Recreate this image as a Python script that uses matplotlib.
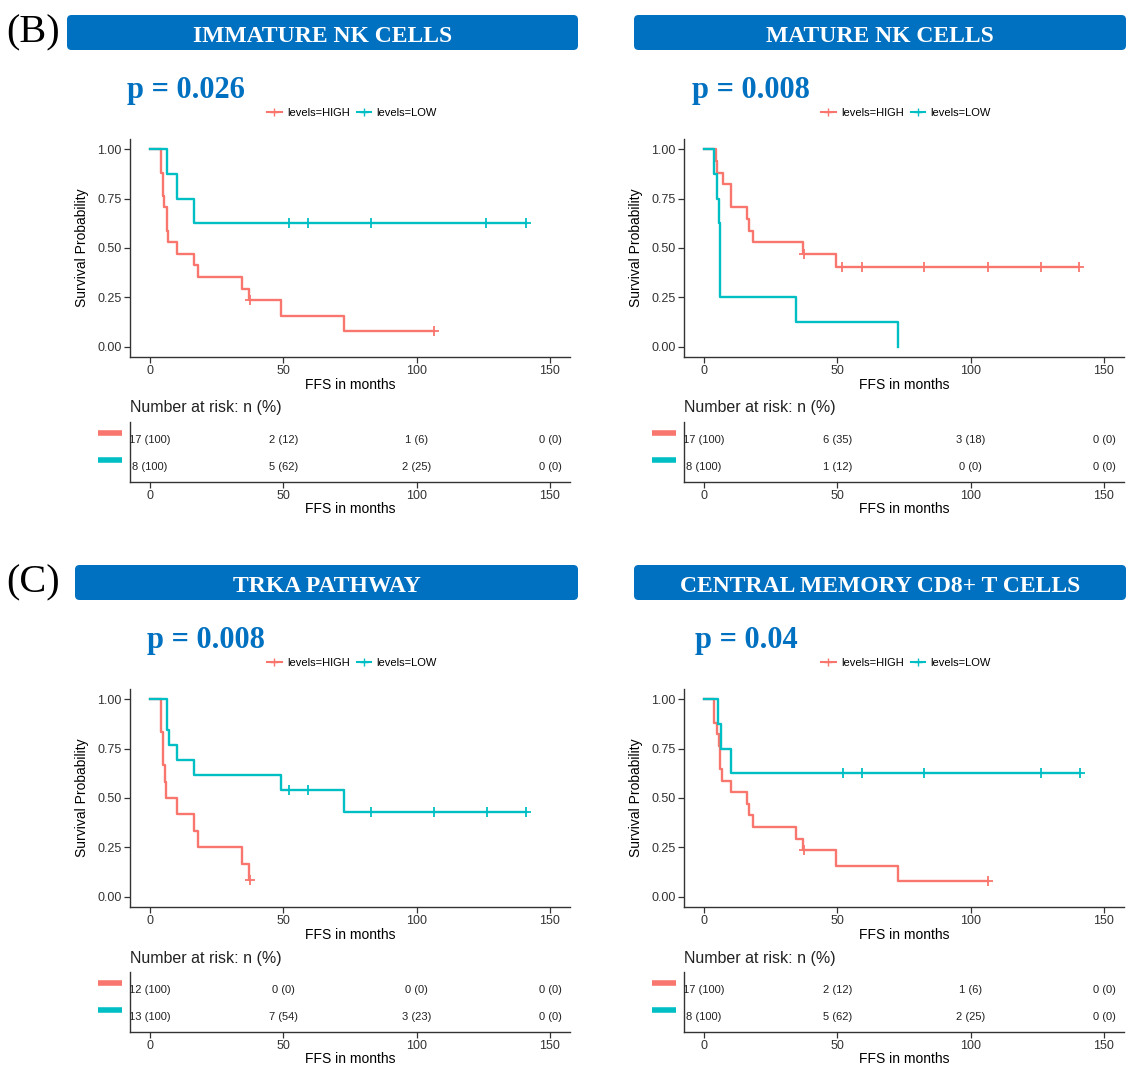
import numpy as np
import matplotlib
matplotlib.use("Agg")
import matplotlib.pyplot as plt
from matplotlib.lines import Line2D
from matplotlib.patches import FancyBboxPatch

W, H = 1140, 1065
RED = "#F8766D"
TEAL = "#00BFC4"
BLUE = "#0070C0"

plt.rcParams["font.family"] = ["Liberation Sans", "DejaVu Sans"]

# ---- data ----
titles = ["IMMATURE NK CELLS", "MATURE NK CELLS", "TRKA PATHWAY", "CENTRAL MEMORY CD8+ T CELLS"]
pvals = ["p = 0.026", "p = 0.008", "p = 0.008", "p = 0.04"]
tags = ["(B)", None, "(C)", None]

# KM step curves (time in months, survival after the step)
hi_t1 = [0, 4, 4.75, 5.4, 6.25, 6.9, 10, 16.6, 18.1, 34.5, 37.2, 49.1, 72.9, 106.6]
hi_s1 = [1, 0.882, 0.765, 0.706, 0.588, 0.529, 0.471, 0.412, 0.353, 0.294, 0.235, 0.157, 0.078, 0.078]
hi_c1 = [37.5, 106.6]
lo_t1 = [0, 6.25, 10, 16.5, 141]
lo_s1 = [1, 0.875, 0.75, 0.625, 0.625]
lo_c1 = [52, 59.25, 82.9, 126, 141]

hi_t2 = [0, 4.4, 4.9, 7.25, 10, 16.25, 16.75, 18.25, 37.25, 49.4, 140.75]
hi_s2 = [1, 0.941, 0.882, 0.824, 0.706, 0.647, 0.588, 0.529, 0.471, 0.403, 0.403]
hi_c2 = [37.5, 51.9, 59.25, 82.6, 106.6, 126.25, 140.75]
lo_t2 = [0, 3.9, 5, 5.75, 6, 34.4, 72.6]
lo_s2 = [1, 0.875, 0.75, 0.625, 0.25, 0.125, 0]
lo_c2 = []

hi_t3 = [0, 4, 4.75, 5.6, 6, 10, 16.6, 18.1, 34.4, 37.3, 37.5]
hi_s3 = [1, 0.833, 0.667, 0.583, 0.5, 0.417, 0.333, 0.25, 0.167, 0.083, 0.083]
hi_c3 = [37.5]
lo_t3 = [0, 6.25, 7.1, 10, 16.5, 49.1, 72.9, 141]
lo_s3 = [1, 0.846, 0.769, 0.692, 0.615, 0.538, 0.431, 0.431]
lo_c3 = [52, 59.25, 82.9, 106.6, 126.25, 141]

hi_t4 = [0, 3.9, 5, 5.6, 6, 6.6, 10, 16.25, 16.75, 18.25, 34.4, 37.25, 49.4, 72.6, 106.6]
hi_s4 = [1, 0.882, 0.824, 0.765, 0.647, 0.588, 0.529, 0.471, 0.412, 0.353, 0.294, 0.235, 0.157, 0.078, 0.078]
hi_c4 = [37.5, 106.6]
lo_t4 = [0, 5.4, 6.25, 10, 141]
lo_s4 = [1, 0.875, 0.75, 0.625, 0.625]
lo_c4 = [52, 59.4, 82.6, 126.25, 141]

risk_times = [0, 50, 100, 150]
hi_n = [[17, 2, 1, 0], [17, 6, 3, 0], [12, 0, 0, 0], [17, 2, 1, 0]]
hi_pct = [[100, 12, 6, 0], [100, 35, 18, 0], [100, 0, 0, 0], [100, 12, 6, 0]]
lo_n = [[8, 5, 2, 0], [8, 1, 0, 0], [13, 7, 3, 0], [8, 5, 2, 0]]
lo_pct = [[100, 62, 25, 0], [100, 12, 0, 0], [100, 54, 23, 0], [100, 62, 25, 0]]

curves = [
    (hi_t1, hi_s1, hi_c1, lo_t1, lo_s1, lo_c1),
    (hi_t2, hi_s2, hi_c2, lo_t2, lo_s2, lo_c2),
    (hi_t3, hi_s3, hi_c3, lo_t3, lo_s3, lo_c3),
    (hi_t4, hi_s4, hi_c4, lo_t4, lo_s4, lo_c4),
]

# panel offsets in pixels and header box extents
offsets = [(0, 0), (554, 0), (0, 550), (554, 550)]
box_x = [(67, 578), (634, 1126), (75, 578), (634, 1126)]
p_x = [127, 692, 147, 695]


def fx(x):
    return x / W


def fy(y):
    return 1 - y / H


def px_rect(x0, y0, x1, y1):
    return [x0 / W, 1 - y1 / H, (x1 - x0) / W, (y1 - y0) / H]


def surv_at(t, s, c):
    idx = np.searchsorted(t, c, side="right") - 1
    return np.asarray(s)[idx]


def style_axis(ax):
    for side in ["top", "right"]:
        ax.spines[side].set_visible(False)
    for side in ["left", "bottom"]:
        ax.spines[side].set_color("#333333")
        ax.spines[side].set_linewidth(1.0)
    ax.tick_params(length=4, width=0.9, color="#333333", labelsize=9,
                   labelcolor="#333333", pad=2)


fig = plt.figure(figsize=(W / 100, H / 100), dpi=100)

for k in range(4):
    dx, dy = offsets[k]
    ht, hs, hc, lt, ls, lc = curves[k]

    # header
    bx0, bx1 = box_x[k]
    fig.add_artist(FancyBboxPatch((fx(bx0), fy(50 + dy)), fx(bx1 - bx0), 35 / H,
                                  boxstyle="round,pad=0,rounding_size=0.004",
                                  mutation_aspect=W / H, transform=fig.transFigure,
                                  facecolor=BLUE, edgecolor="none"))
    fig.text(fx((bx0 + bx1) / 2), fy(34 + dy), titles[k], color="white",
             fontsize=17, fontweight="bold", family="Liberation Serif",
             ha="center", va="center_baseline")
    if tags[k]:
        fig.text(fx(6), fy(28 + dy), tags[k], fontsize=29, family="Liberation Serif",
                 ha="left", va="center_baseline")
    fig.text(fx(p_x[k]), fy(87 + dy), pvals[k], color=BLUE, fontsize=22,
             fontweight="bold", family="Liberation Serif", ha="left", va="center_baseline")

    # legend
    handles = [Line2D([], [], color=RED, lw=1.5, marker="+", ms=6),
               Line2D([], [], color=TEAL, lw=1.5, marker="+", ms=6)]
    fig.legend(handles, ["levels=HIGH", "levels=LOW"], loc="center",
               bbox_to_anchor=(fx(352 + dx), fy(113 + dy)), ncol=2, frameon=False,
               fontsize=8, handlelength=1.3, handletextpad=0.5, columnspacing=0.6)

    # survival curves
    ax = fig.add_axes(px_rect(130 + dx, 139.4 + dy, 570 + dx, 356.6 + dy))
    ax.step(ht, hs, where="post", color=RED, lw=1.7)
    ax.step(lt, ls, where="post", color=TEAL, lw=1.7)
    if len(hc):
        ax.plot(hc, surv_at(ht, hs, hc), ls="none", marker="+", ms=7, mew=1.3, color=RED)
    if len(lc):
        ax.plot(lc, surv_at(lt, ls, lc), ls="none", marker="+", ms=7, mew=1.3, color=TEAL)
    ax.set_xlim(-7.5, 157.5)
    ax.set_ylim(-0.05, 1.05)
    ax.set_xticks(risk_times)
    ax.set_yticks([0, 0.25, 0.5, 0.75, 1.0])
    ax.set_yticklabels(["0.00", "0.25", "0.50", "0.75", "1.00"])
    ax.set_xlabel("FFS in months", fontsize=10, labelpad=1)
    ax.set_ylabel("Survival Probability", fontsize=10, labelpad=6)
    style_axis(ax)

    # risk table
    fig.text(fx(130 + dx), fy(408 + dy), "Number at risk: n (%)", fontsize=11.5,
             ha="left", va="center", color="#222222")
    ar = fig.add_axes(px_rect(130 + dx, 422 + dy, 570 + dx, 482 + dy))
    for t, n, p in zip(risk_times, hi_n[k], hi_pct[k]):
        ar.text(t, 1, f"{n} ({p})", ha="center", va="center", fontsize=8,
                color="#222222", clip_on=True)
    for t, n, p in zip(risk_times, lo_n[k], lo_pct[k]):
        ar.text(t, 0, f"{n} ({p})", ha="center", va="center", fontsize=8,
                color="#222222", clip_on=True)
    ar.set_xlim(-7.5, 157.5)
    ar.set_ylim(-0.556, 1.667)
    ar.set_xticks(risk_times)
    ar.set_yticks([])
    ar.set_xlabel("FFS in months", fontsize=10, labelpad=0)
    style_axis(ar)

    # colour keys left of the table
    for yy, col in [(433, RED), (460, TEAL)]:
        fig.add_artist(Line2D([fx(98 + dx), fx(122 + dx)], [fy(yy + dy), fy(yy + dy)],
                              color=col, lw=4, solid_capstyle="butt",
                              transform=fig.transFigure))

fig.savefig("out.png", dpi=100)
